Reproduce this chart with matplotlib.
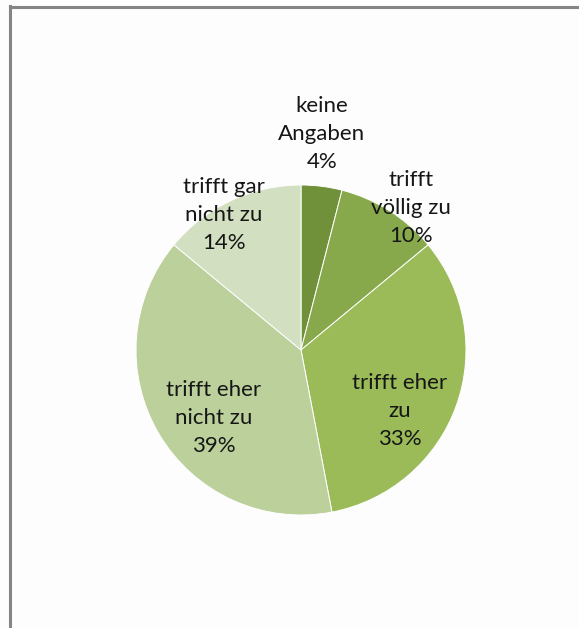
import matplotlib
matplotlib.use("Agg")
import matplotlib.pyplot as plt
from matplotlib.lines import Line2D

categories = ["keine\nAngaben", "trifft\nvöllig zu", "trifft eher\nzu", "trifft eher\nnicht zu", "trifft gar\nnicht zu"]
values = [4, 10, 33, 39, 14]
colors = ["#70903a", "#88a94b", "#9bbb59", "#bcd09b", "#d3dfc1"]
label_pos = [(0.127, 1.309), (0.667, 0.861), (0.60, -0.370), (-0.527, -0.412), (-0.467, 0.818)]

W, H = 579, 628
fig = plt.figure(figsize=(W / 100, H / 100), dpi=100)
fig.patch.set_facecolor("#fdfdfd")

ax = fig.add_axes([136 / W, (H - 515) / H, 330 / W, 330 / H])
ax.pie(values, colors=colors, startangle=90, counterclock=False,
       wedgeprops=dict(edgecolor="white", linewidth=0.7), radius=1.0)
ax.set_xlim(-1, 1)
ax.set_ylim(-1, 1)
ax.set_aspect("auto")
ax.axis("off")

for cat, v, (x, y) in zip(categories, values, label_pos):
    ax.text(x, y, f"{cat}\n{v}%", ha="center", va="center", fontsize=16,
            family="Lato", color="#161616", linespacing=1.5, clip_on=False)

# frame (top and left edges)
fig.add_artist(Line2D([9.5 / W, 1.0], [1 - 7 / H, 1 - 7 / H], transform=fig.transFigure,
                      color="#858585", linewidth=2.2))
fig.add_artist(Line2D([10 / W, 10 / W], [0, 1 - 6 / H], transform=fig.transFigure,
                      color="#858585", linewidth=2.2))

fig.savefig("out.png", dpi=100, facecolor=fig.get_facecolor())
